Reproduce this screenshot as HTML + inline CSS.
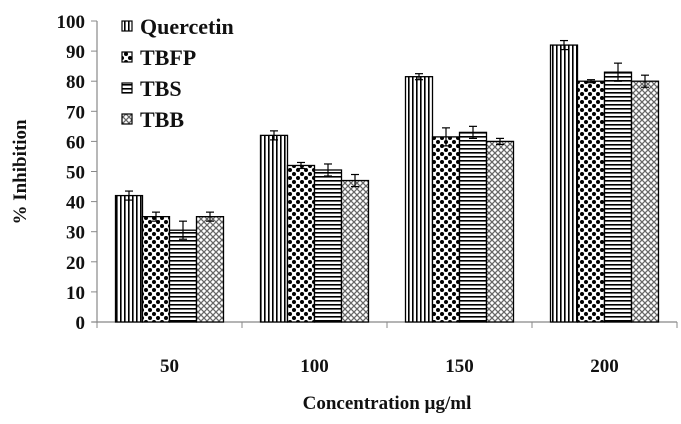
<!DOCTYPE html>
<html><head><meta charset="utf-8"><style>
body{margin:0;background:#fff}
svg text{font-family:"Liberation Serif",serif;font-weight:bold;fill:#111}
</style></head><body>
<svg width="681" height="419" xmlns="http://www.w3.org/2000/svg">
<defs>
<pattern id="pV" width="4" height="4" patternUnits="userSpaceOnUse"><rect width="4" height="4" fill="#fff"/><rect width="1.6" height="4" fill="#000"/></pattern>
<pattern id="pD" width="8" height="8" patternUnits="userSpaceOnUse"><rect width="8" height="8" fill="#fff"/><circle cx="2" cy="2" r="2" fill="#000"/><circle cx="6" cy="6" r="2" fill="#000"/></pattern>
<pattern id="pH" width="4" height="4" patternUnits="userSpaceOnUse"><rect width="4" height="4" fill="#fff"/><rect width="4" height="1.6" fill="#000"/></pattern>
<pattern id="pX" width="6" height="6" patternUnits="userSpaceOnUse"><rect width="6" height="6" fill="#fff"/><path d="M0 0L6 6M6 0L0 6" stroke="#666" stroke-width="1.3"/></pattern>
</defs>
<g id="chart"></g>
</svg>
<script>
const categories=["50","100","150","200"];
const seriesNames=["Quercetin","TBFP","TBS","TBB"];
const quercetin=[42,62,81.5,92];
const tbfp=[35,52,61.5,80];
const tbs=[30.5,50.5,63,83];
const tbb=[35,47,60,80];
const errQ=[1.5,1.5,1,1.5];
const errF=[1.5,1,3,0.5];
const errS=[3,2,2,3];
const errB=[1.5,2,1,2];
const yTicks=[0,10,20,30,40,50,60,70,80,90,100];
const series=[quercetin,tbfp,tbs,tbb];
const errs=[errQ,errF,errS,errB];
const fills=["url(#pV)","url(#pD)","url(#pH)","url(#pX)"];
const NS="http://www.w3.org/2000/svg";
const g=document.getElementById('chart');
const x0=97,catW=145,y0=322,pxPer=3.01,barW=27;
const y=v=>y0-v*pxPer;
function el(t,a,txt){const e=document.createElementNS(NS,t);for(const k in a)e.setAttribute(k,a[k]);if(txt!=null)e.textContent=txt;g.appendChild(e);return e;}
let ax=el('line',{x1:x0,y1:y(100),x2:x0,y2:y0+1,stroke:'#888','stroke-width':1.2});


let xa=el('line',{x1:x0-5,y1:y0,x2:x0+catW*4,y2:y0,stroke:'#888','stroke-width':1.2});


yTicks.forEach(t=>{
 el('line',{x1:x0-6,y1:y(t),x2:x0,y2:y(t),stroke:'#888'});
 const tx=el('text',{x:x0-12,y:y(t)+7,'text-anchor':'end','font-size':19},t);
 
 
});
for(let i=0;i<=4;i++)el('line',{x1:x0+catW*i,y1:y0,x2:x0+catW*i,y2:y0+6,stroke:'#888'});
categories.forEach((c,i)=>{
 const cx=x0+catW*i+catW/2;
 const t=el('text',{x:cx,y:372,'text-anchor':'middle','font-size':19},c);
 
 
 series.forEach((s,j)=>{
  const bx=cx-2*barW+j*barW;
  const r=el('rect',{x:bx,y:y(s[i]),width:barW,height:y0-y(s[i]),fill:fills[j],stroke:'#000','stroke-width':1.3});
  
  
  const e=errs[j][i],mx=bx+barW/2;
  el('line',{x1:mx,y1:y(s[i]+e),x2:mx,y2:y(s[i]-e),stroke:'#000','stroke-width':1.2});
  el('line',{x1:mx-4,y1:y(s[i]+e),x2:mx+4,y2:y(s[i]+e),stroke:'#000','stroke-width':1.2});
  el('line',{x1:mx-4,y1:y(s[i]-e),x2:mx+4,y2:y(s[i]-e),stroke:'#000','stroke-width':1.2});
 });
});
seriesNames.forEach((n,j)=>{
 const ly=27+j*31;
 const r=el('rect',{x:122,y:ly-6,width:10,height:10,fill:fills[j],stroke:'#000','stroke-width':1.2});
 
 
 const t=el('text',{x:140,y:ly+7,'font-size':22},n);
 
 
});
const yt=el('text',{x:0,y:0,'font-size':19,'text-anchor':'middle',transform:'translate(26,172) rotate(-90)'},'% Inhibition');


const xt=el('text',{x:387,y:409,'font-size':19,'text-anchor':'middle'},'Concentration µg/ml');


</script>
</body></html>
